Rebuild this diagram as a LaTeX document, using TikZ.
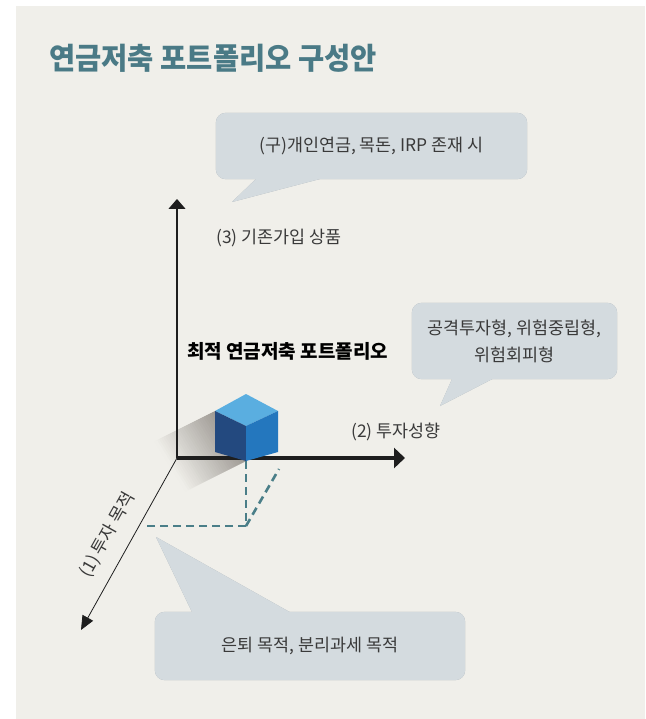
\documentclass[tikz,border=0pt]{standalone}
\usepackage{fontspec}
\setmainfont{Noto Sans CJK KR}
\newfontfamily\titlefont[FakeStretch=0.95]{Noto Sans CJK KR}
\usetikzlibrary{arrows.meta,calc}
\definecolor{panelx}{HTML}{F0EFEA}
\definecolor{titlex}{HTML}{4A7A86}
\definecolor{inkx}{HTML}{3A3A3A}
\definecolor{axisx}{HTML}{1E1E1E}
\definecolor{dashx}{HTML}{4A7E88}
\definecolor{balloonx}{HTML}{D4DBDF}
\definecolor{balloonsh}{HTML}{A2AAAF}
\definecolor{cubetop}{HTML}{5AAEE0}
\definecolor{cubeleft}{HTML}{23497F}
\definecolor{cuberight}{HTML}{2477BE}
\definecolor{shadex}{HTML}{8A857F}
\pgfdeclarelayer{back}
\pgfdeclarelayer{bg}
\pgfsetlayers{back,bg,main}
\tikzset{
  txt/.style={font=\fontsize{17.4}{27}\selectfont,text=inkx,align=center,inner sep=0pt},
  balloon/.style={fill=balloonx,rounded corners=10pt},
  sh/.style={fill=balloonsh,rounded corners=10pt,shift={(1.5,2.5)}},
  axthin/.style={axisx,line width=1.2pt,-{Triangle[length=10pt,width=17pt]}},
  axthick/.style={axisx,line width=3.2pt,-{Triangle[length=11pt,width=20pt]}},
  dsh/.style={dashx,line width=2.6pt,dash pattern=on 8pt off 5pt}
}

\begin{document}
\begin{tikzpicture}[x=1pt,y=-1pt]
\useasboundingbox (0,0) rectangle (645,719);
\begin{pgfonlayer}{back}
  \fill[panelx] (16,6) rectangle (645,719);
\end{pgfonlayer}

% title
\node[anchor=west,inner sep=0pt,text=titlex,font=\titlefont\bfseries\fontsize{30}{30}\selectfont] (title) at (49,58.5) {연금저축 포트폴리오 구성안};

% axes
\coordinate (O) at (177,458);
\coordinate (yEnd) at (177,199);
\coordinate (xEnd) at (405,458);
\coordinate (zEnd) at (81,630);

% cube shadow, swept down-left in thin strips
\foreach \i in {0,...,29}{
  \pgfmathsetmacro\sa{\i}
  \pgfmathsetmacro\sb{\i+1.3}
  \pgfmathtruncatemacro\pct{80-\i*2.7}
  \fill[shadex!\pct!panelx] (215-2*\sa,411+\sa) -- (215-2*\sb,411+\sb) -- (246-2*\sb,461+\sb) -- (246-2*\sa,461+\sa) -- cycle;
}

\draw[axthin] (O) -- (yEnd);
\draw[axthin,line width=0.8pt,-{Triangle[length=14pt,width=12pt]}] (O) -- (zEnd);
\draw[axthick] (O) -- (xEnd);

% dashed guides
\coordinate (foot) at (246,526);
\draw[dsh] (246,461) -- (foot);
\draw[dsh] (foot) -- (147,526);
\draw[dsh] (foot) -- (279,469);

% cube
\fill[cubetop] (246,394) -- (278,411) -- (246,426) -- (215,411) -- cycle;
\fill[cubeleft] (215,411) -- (246,426) -- (246,461) -- (215,452) -- cycle;
\fill[cuberight] (246,426) -- (278,411) -- (278,452) -- (246,461) -- cycle;

% axis labels
\node[txt,anchor=west] (lblThree) at (216,238) {(3) 기존가입 상품};
\node[txt,anchor=west] (lblTwo) at (351,432) {(2) 투자성향};
\node[txt,rotate=60.7] (lblOne) at (107.5,535) {(1) 투자 목적};
\node[txt,anchor=west,text=black,font=\bfseries\fontsize{19}{19}\selectfont] (best) at (187,351) {최적 연금저축 포트폴리오};

% balloons
\node[txt,minimum width=311pt,minimum height=66pt] (bTop) at (371.5,146) {(구)개인연금, 목돈, IRP 존재 시};
\node[txt,minimum width=205pt,minimum height=76pt] (bRight) at (514.5,341) {공격투자형, 위험중립형,\\위험회피형};
\node[txt,minimum width=310pt,minimum height=68pt] (bBottom) at (310,646) {은퇴 목적, 분리과세 목적};
\coordinate (tTop) at (232,202);
\coordinate (tRight) at (440,406);
\coordinate (tBottom) at (156,537);

\begin{pgfonlayer}{bg}
  \foreach \st in {sh,balloon}{
    \fill[\st] (bTop.south west) rectangle (bTop.north east);
    \fill[\st] (bRight.south west) rectangle (bRight.north east);
    \fill[\st] (bBottom.south west) rectangle (bBottom.north east);
    \fill[\st,rounded corners=0pt] ($(bTop.south west)+(42,-2)$) -- (tTop) -- ($(bTop.south west)+(111,-2)$) -- cycle;
    \fill[\st,rounded corners=0pt] ($(bRight.south west)+(41,-2)$) -- (tRight) -- ($(bRight.south west)+(84,-2)$) -- cycle;
    \fill[\st,rounded corners=0pt] ($(bBottom.north west)+(38,2)$) -- (tBottom) -- ($(bBottom.north west)+(138,2)$) -- cycle;
  }
\end{pgfonlayer}
\end{tikzpicture}
\end{document}
